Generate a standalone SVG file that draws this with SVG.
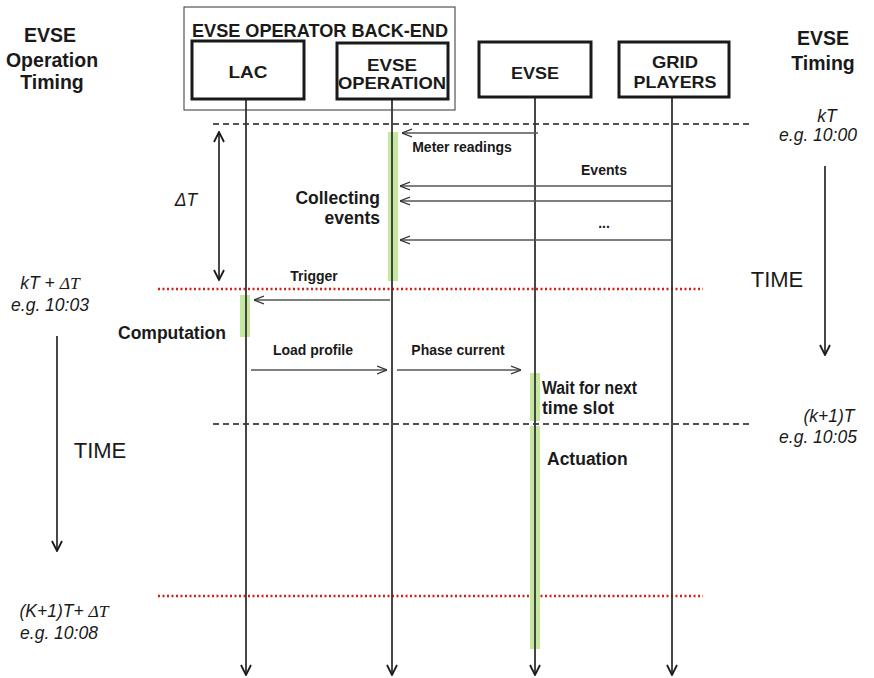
<svg xmlns="http://www.w3.org/2000/svg" width="874" height="678" viewBox="0 0 874 678">
<style>
text{font-family:"Liberation Sans",Arial,sans-serif;fill:#1a1a1a}
.b{font-weight:bold}
.node{fill:#fff;stroke:#1a1a1a;stroke-width:3}
.nl{font-size:16.5px;font-weight:bold;text-anchor:middle}
.ml{font-size:14px;font-weight:bold;text-anchor:middle}
.al{font-size:17.5px;font-weight:bold}
.hd{font-size:19.5px;font-weight:bold;text-anchor:middle}
.it{font-size:17.5px;font-style:italic;text-anchor:middle}
.tm{font-size:22px;text-anchor:middle}
.life{stroke:#333;stroke-width:1.8;fill:none}
.msg{stroke:#555;stroke-width:1.3;fill:none}
.dash{stroke:#1a1a1a;stroke-width:1.5;stroke-dasharray:6,4;fill:none}
.red{stroke:#d0201a;stroke-width:2.5;stroke-dasharray:2,2.5;fill:none}
.act{fill:#c5e8a0}
.tarrow{stroke:#1a1a1a;stroke-width:1.6;fill:none}
</style>
<defs>
<marker id="open" viewBox="0 0 10 10" refX="10" refY="5" markerWidth="10" markerHeight="10" markerUnits="userSpaceOnUse" orient="auto">
<path d="M0,1 L10,5 L0,9" fill="none" stroke="#333" stroke-width="1.2"/>
</marker>
<marker id="v" viewBox="0 0 12 12" refX="11" refY="6" markerWidth="12" markerHeight="12" markerUnits="userSpaceOnUse" orient="auto-start-reverse">
<path d="M1,1 L11,6 L1,11" fill="none" stroke="#1a1a1a" stroke-width="1.8"/>
</marker>
</defs>
<rect x="0" y="0" width="874" height="678" fill="#fff"/>

<g id="backend">
<rect x="184" y="7" width="271" height="103" fill="#fff" stroke="#333" stroke-width="1"/>
<text x="320" y="36.5" class="b" font-size="17.5" text-anchor="middle" textLength="256" lengthAdjust="spacingAndGlyphs">EVSE OPERATOR BACK-END</text>
</g>

<g id="timing-lines">
<line x1="213" y1="124" x2="752" y2="124" class="dash"/>
<line x1="213" y1="424" x2="752" y2="424" class="dash"/>
<line x1="158" y1="289" x2="703" y2="289" class="red"/>
<line x1="158" y1="596" x2="703" y2="596" class="red"/>
</g>

<g id="activations">
<rect x="388" y="132" width="10" height="149" class="act"/>
<rect x="240" y="295" width="10" height="42" class="act"/>
<rect x="530" y="373" width="10" height="48" class="act"/>
<rect x="530" y="426" width="10" height="223" class="act"/>
</g>

<g id="connectors">
<line x1="246" y1="99" x2="246" y2="675" class="life" marker-end="url(#v)"/>
<line x1="392" y1="99" x2="392" y2="675" class="life" marker-end="url(#v)"/>
<line x1="535" y1="97" x2="535" y2="675" class="life" marker-end="url(#v)"/>
<line x1="672" y1="97" x2="672" y2="675" class="life" marker-end="url(#v)"/>
<line x1="538" y1="133" x2="402" y2="133" class="msg" marker-end="url(#open)"/>
<line x1="672" y1="186" x2="400" y2="186" class="msg" marker-end="url(#open)"/>
<line x1="672" y1="201" x2="400" y2="201" class="msg" marker-end="url(#open)"/>
<line x1="672" y1="240" x2="400" y2="240" class="msg" marker-end="url(#open)"/>
<line x1="390" y1="300" x2="254" y2="300" class="msg" marker-end="url(#open)"/>
<line x1="251" y1="370" x2="387" y2="370" class="msg" marker-end="url(#open)"/>
<line x1="397" y1="370" x2="521" y2="370" class="msg" marker-end="url(#open)"/>
<line x1="219" y1="132" x2="219" y2="280" class="tarrow" marker-start="url(#v)" marker-end="url(#v)"/>
<line x1="825" y1="166" x2="825" y2="355" class="tarrow" marker-end="url(#v)"/>
<line x1="57" y1="336" x2="57" y2="551" class="tarrow" marker-end="url(#v)"/>
</g>

<g id="lac">
<rect x="192" y="41" width="112" height="58" class="node"/>
<text x="248" y="78" class="nl" textLength="39" lengthAdjust="spacingAndGlyphs">LAC</text>
</g>
<g id="evse-operation">
<rect x="337" y="43" width="111" height="56" class="node"/>
<text x="392" y="70.5" class="nl" textLength="50" lengthAdjust="spacingAndGlyphs">EVSE</text>
<text x="392" y="88.5" class="nl" textLength="108" lengthAdjust="spacingAndGlyphs">OPERATION</text>
</g>
<g id="evse">
<rect x="479" y="42" width="112" height="55" class="node"/>
<text x="535" y="79" class="nl" textLength="48" lengthAdjust="spacingAndGlyphs">EVSE</text>
</g>
<g id="grid-players">
<rect x="619" y="42" width="110" height="55" class="node"/>
<text x="675" y="68" class="nl" textLength="46" lengthAdjust="spacingAndGlyphs">GRID</text>
<text x="675" y="88" class="nl" textLength="83" lengthAdjust="spacingAndGlyphs">PLAYERS</text>
</g>

<g id="labels">
<text x="462" y="152" class="ml">Meter  readings</text>
<text x="604" y="175" class="ml">Events</text>
<text x="604" y="228" class="ml">...</text>
<text x="314" y="281" class="ml">Trigger</text>
<text x="313" y="355" class="ml">Load profile</text>
<text x="458" y="355" class="ml">Phase current</text>
<text x="380" y="204" class="al" text-anchor="end">Collecting</text>
<text x="380" y="224" class="al" text-anchor="end">events</text>
<text x="172" y="339" class="al" text-anchor="middle">Computation</text>
<text x="542" y="394" class="al" textLength="95" lengthAdjust="spacingAndGlyphs">Wait for next</text>
<text x="542" y="414" class="al">time slot</text>
<text x="547" y="465" class="al">Actuation</text>
</g>

<g id="left-timing">
<text x="50" y="42" class="hd">EVSE</text>
<text x="52" y="67" class="hd">Operation</text>
<text x="52" y="89" class="hd">Timing</text>
<text x="50" y="289" class="it">kT + <tspan font-family="Liberation Serif,serif">ΔT</tspan></text>
<text x="50" y="311" class="it">e.g. 10:03</text>
<text x="100" y="458" class="tm">TIME</text>
<text x="64" y="617" class="it">(K+1)T+ <tspan font-family="Liberation Serif,serif">ΔT</tspan></text>
<text x="59" y="639" class="it">e.g. 10:08</text>
<text x="186" y="206" class="it" font-family="Liberation Serif,serif" font-size="18">ΔT</text>
</g>

<g id="right-timing">
<text x="823" y="45" class="hd">EVSE</text>
<text x="823" y="70" class="hd">Timing</text>
<text x="827" y="122" class="it">kT</text>
<text x="818" y="141" class="it">e.g. 10:00</text>
<text x="777" y="287" class="tm">TIME</text>
<text x="829" y="422" class="it">(k+1)T</text>
<text x="818" y="443" class="it">e.g. 10:05</text>
</g>
</svg>
